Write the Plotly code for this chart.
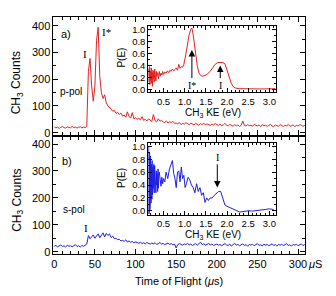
import plotly.graph_objects as go

# page body has an 8px margin; figure is sized / positioned to compensate
OFF = 8
W, H = 336 - OFF, 296 - OFF

# ---------------- data ----------------
tof_step = 2  # microseconds between samples

counts_p = [22, 18, 21, 16, 20, 23, 19, 17, 22, 20, 18, 24, 19, 21, 17, 20, 22, 18, 21, 19,
            24, 230, 278, 175, 118, 175, 345, 395, 210, 150,
            128, 142, 112, 100, 95, 88, 80, 84, 72, 76, 68, 74, 62, 66, 58, 78, 60, 55, 75, 52,
            56, 50, 54, 48, 60, 46, 50, 44, 52, 47, 42, 68, 45, 40, 52, 43, 46, 40, 38, 44, 36, 41, 38, 42, 35,
            36, 33, 38, 30, 35, 32, 37, 34, 30, 36, 33, 29, 35, 31, 28, 34, 30, 36, 29, 33, 30, 27, 32, 29, 34,
            30, 27, 32, 26, 29, 35, 28, 25, 31, 27, 24, 30, 26, 29, 23, 28, 44, 27, 25, 30, 26, 28, 24, 31, 27,
            25, 29, 23, 30, 26, 28, 24, 27, 31, 25, 22, 29, 26, 24, 30, 27, 23, 28, 25, 31, 24, 26, 29, 23, 27,
            25, 30, 28, 24, 27, 26]

counts_s = [20, 23, 18, 21, 25, 19, 22, 17, 24, 20, 22, 18, 21, 26, 19, 22, 17, 23, 20, 24,
            28, 60, 48, 55, 62, 50, 58, 66, 52, 63, 70, 55, 68, 60, 66, 52, 58, 48, 50, 44,
            46, 40, 42, 38, 44, 36, 40, 35, 38, 33, 36, 34, 31, 35, 30, 33, 29, 34, 31, 28,
            32, 29, 33, 27, 30, 34, 28, 31, 26, 29, 32, 27, 30, 25, 28, 14, 26, 30, 27, 24,
            29, 26, 31, 25, 28, 23, 27, 30, 24, 28, 35, 26, 29, 24, 27, 30, 25, 28, 23, 26,
            28, 24, 27, 22, 26, 30, 25, 23, 28, 21, 26, 31, 24, 27, 22, 25, 29, 23, 26, 20,
            27, 24, 28, 22, 25, 30, 23, 26, 21, 28, 24, 27, 22, 25, 29, 23, 26, 21, 27, 24,
            28, 22, 25, 30, 23, 26, 20, 27, 24, 28, 22, 25, 29, 23, 26, 24]

ke_p = [0.15, 0.16, 0.17, 0.18, 0.19, 0.20, 0.21, 0.22, 0.23, 0.24, 0.25, 0.26, 0.27, 0.28, 0.29,
        0.30, 0.31, 0.32, 0.33, 0.34, 0.36, 0.38, 0.40, 0.42, 0.44, 0.46, 0.48, 0.50,
        0.53, 0.56, 0.59, 0.62, 0.65, 0.68, 0.71, 0.74, 0.77, 0.80, 0.83, 0.86, 0.89, 0.92, 0.95, 0.98,
        1.02, 1.06, 1.10, 1.14, 1.17, 1.20, 1.23, 1.26, 1.30, 1.34, 1.38, 1.42, 1.48, 1.54, 1.60,
        1.66, 1.72, 1.78, 1.84, 1.90, 1.95, 2.00, 2.05, 2.10, 2.15, 2.20, 2.30, 2.50, 2.80, 3.15]
pe_p = [0.35, 0.12, 0.38, 0.08, 0.30, 0.15, 0.36, 0.10, 0.28, 0.05, 0.32, 0.18, 0.30, 0.12, 0.34,
        0.20, 0.27, 0.14, 0.30, 0.22, 0.28, 0.18, 0.30, 0.22, 0.27, 0.24, 0.30, 0.25,
        0.29, 0.27, 0.31, 0.28, 0.32, 0.30, 0.34, 0.31, 0.33, 0.36, 0.32, 0.42, 0.35, 0.38, 0.37, 0.42,
        0.56, 0.74, 0.90, 1.00, 1.03, 0.92, 0.74, 0.56, 0.38, 0.27, 0.23, 0.22, 0.23, 0.26, 0.30,
        0.36, 0.42, 0.45, 0.45, 0.45, 0.43, 0.33, 0.20, 0.10, 0.04, 0.02, 0.01, 0.005, 0.005, 0.01]

ke_s = [0.15, 0.152, 0.155, 0.158, 0.16, 0.163, 0.165, 0.168, 0.17, 0.173, 0.175, 0.178, 0.18,
        0.185, 0.19, 0.195, 0.20, 0.205, 0.21, 0.215, 0.22, 0.225, 0.23, 0.235, 0.24, 0.245, 0.25,
        0.26, 0.27, 0.28, 0.29, 0.30, 0.31, 0.32, 0.33, 0.34, 0.35, 0.36, 0.37, 0.38, 0.39, 0.40,
        0.42, 0.44, 0.46, 0.48, 0.50, 0.53, 0.56, 0.60, 0.64, 0.68, 0.71, 0.74, 0.77, 0.80, 0.83,
        0.86, 0.89, 0.92, 0.95, 0.98, 1.01, 1.04, 1.08, 1.12, 1.16, 1.20, 1.24, 1.28, 1.32, 1.36,
        1.40, 1.44, 1.48, 1.52, 1.56, 1.60, 1.65, 1.70, 1.75, 1.80, 1.85, 1.90, 1.95, 2.00, 2.10,
        2.20, 2.30, 2.40, 2.50, 2.60, 2.70, 2.80, 2.90, 3.00, 3.10]
pe_s = [1.00, -0.05, 0.95, -0.02, 0.85, 0.05, 0.98, 0.00, 0.90, 0.10, 0.75, 0.02, 0.70,
        0.15, 0.85, 0.20, 0.80, 0.12, 0.72, 0.30, 0.65, 0.18, 0.78, 0.25, 0.75, 0.30, 0.68,
        0.35, 0.72, 0.28, 0.70, 0.40, 0.55, 0.28, 0.62, 0.40, 0.58, 0.30, 0.65, 0.35, 0.55, 0.60,
        0.45, 0.38, 0.52, 0.42, 0.50, 0.45, 0.60, 0.50, 0.65, 0.75, 0.78, 0.58, 0.50, 0.36, 0.60,
        0.62, 0.45, 0.68, 0.50, 0.55, 0.36, 0.42, 0.52, 0.48, 0.40, 0.36, 0.28, 0.42, 0.30, 0.36,
        0.24, 0.28, 0.13, 0.20, 0.16, 0.20, 0.20, 0.24, 0.27, 0.30, 0.30, 0.20, 0.09, 0.07, 0.04,
        0.00, -0.02, -0.01, 0.00, -0.005, 0.00, 0.01, 0.02, 0.03, 0.02]

tof_ticks = [0, 50, 100, 150, 200, 250, 300]
count_ticks = [0, 100, 200, 300, 400]
ke_ticks = [0.5, 1.0, 1.5, 2.0, 2.5, 3.0]
pe_ticks = [0.0, 0.2, 0.4, 0.6, 0.8, 1.0]

tof_p = [i * tof_step for i in range(len(counts_p))]
tof_s = [i * tof_step for i in range(len(counts_s))]

RED = "rgb(228,32,32)"
BLUE = "rgb(30,30,225)"
SANS = "Liberation Sans"
SERIF = "Liberation Serif"


def pxx(x):
    return (x - OFF) / W


def pxy(y):
    return 1 - (y - OFF) / H


fig = go.Figure()
fig.add_trace(go.Scatter(x=tof_p, y=counts_p, mode="lines", line=dict(color=RED, width=1),
                         xaxis="x", yaxis="y", showlegend=False))
fig.add_trace(go.Scatter(x=tof_s, y=counts_s, mode="lines", line=dict(color=BLUE, width=1),
                         xaxis="x2", yaxis="y2", showlegend=False))
fig.add_trace(go.Scatter(x=ke_p, y=pe_p, mode="lines", line=dict(color=RED, width=1),
                         xaxis="x3", yaxis="y3", showlegend=False))
fig.add_trace(go.Scatter(x=ke_s, y=pe_s, mode="lines", line=dict(color=BLUE, width=1),
                         xaxis="x4", yaxis="y4", showlegend=False))


def axis(rng, dom, anchor, tickvals, minor_dtick, ticklen, mticklen, fontsize, showlabels=True, fmt=None):
    d = dict(range=rng, domain=dom, anchor=anchor, tickmode="array", tickvals=tickvals,
             ticks="inside", ticklen=ticklen, tickwidth=1, tickcolor="black",
             mirror="allticks", showline=True, linecolor="black", linewidth=1,
             showgrid=False, zeroline=False, showticklabels=showlabels,
             tickfont=dict(family=SANS, size=fontsize, color="black"),
             minor=dict(dtick=minor_dtick, ticks="inside", ticklen=mticklen, tickcolor="black",
                        tickwidth=1, showgrid=False))
    if fmt:
        d["tickformat"] = fmt
    return d


XD = [pxx(52), pxx(307)]
XI = [pxx(148), pxx(277)]

fig.update_layout(
    width=W, height=H, margin=dict(l=0, r=0, t=0, b=0),
    paper_bgcolor="white", plot_bgcolor="white",
    xaxis=axis([-1, 309], XD, "y", tof_ticks, 10, 5, 3, 11, showlabels=False),
    yaxis=axis([-10, 434], [pxy(136), pxy(15)], "x", count_ticks, 50, 5, 3, 11),
    xaxis2=axis([-1, 309], XD, "y2", tof_ticks, 10, 5, 3, 11),
    yaxis2=axis([-8, 425], [pxy(257), pxy(138)], "x2", count_ticks, 50, 5, 3, 11),
    xaxis3=axis([0.14, 3.15], XI, "y3", ke_ticks, 0.1, 4, 2, 9.5, fmt=".1f"),
    yaxis3=axis([-0.05, 1.07], [pxy(92), pxy(24)], "x3", pe_ticks, 0.1, 4, 2, 9.5, fmt=".1f"),
    xaxis4=axis([0.14, 3.15], XI, "y4", ke_ticks, 0.1, 4, 2, 9.5, fmt=".1f"),
    yaxis4=axis([-0.06, 1.05], [pxy(217), pxy(144)], "x4", pe_ticks, 0.1, 4, 2, 9.5, fmt=".1f"),
)

ann = []


def text(x, y, s, size=11, font=SANS, angle=0, xanchor="center"):
    ann.append(dict(x=pxx(x), y=pxy(y), xref="paper", yref="paper", text=s, showarrow=False,
                    textangle=angle, xanchor=xanchor, yanchor="middle",
                    font=dict(family=font, size=size, color="black")))


text(16, 82, "CH<sub>3</sub> Counts", size=12, angle=-90)
text(16, 202, "CH<sub>3</sub> Counts", size=12, angle=-90)
text(121, 57, "P(E)", size=10, angle=-90)
text(121, 180, "P(E)", size=10, angle=-90)
text(213, 113, "CH<sub>3</sub> KE (eV)", size=10)
text(213, 238, "CH<sub>3</sub> KE (eV)", size=10)
text(179, 285, "Time of Flight (<i>μ</i>s)", size=11)
text(308, 267, "<i>μ</i>S", size=11, xanchor="left")
text(65, 32, "a)", size=11)
text(70, 91, "p-pol", size=10)
text(66, 162, "b)", size=11)
text(73, 212, "s-pol", size=10)
text(84, 53, "I", size=11, font=SERIF)
text(106, 30, "I*", size=11, font=SERIF)
text(85, 231, "I", size=11, font=SERIF)

# labelled arrows in the insets: label sits at the tail, arrow points to the head
for xr, yr, lab, xa, y_lab, y_tip in [("x3", "y3", "I*", 1.17, 0.07, 0.66),
                                      ("x3", "y3", "I", 1.84, 0.07, 0.40),
                                      ("x4", "y4", "I", 1.77, 0.83, 0.36)]:
    ann.append(dict(x=xa, y=y_tip, ax=xa, ay=y_lab, xref=xr, yref=yr, axref=xr, ayref=yr,
                    text=lab, showarrow=True, arrowhead=2, arrowsize=1.3, arrowwidth=1,
                    arrowcolor="black", font=dict(family=SERIF, size=10, color="black")))

fig.update_layout(annotations=ann)
fig.write_html("out.html")
